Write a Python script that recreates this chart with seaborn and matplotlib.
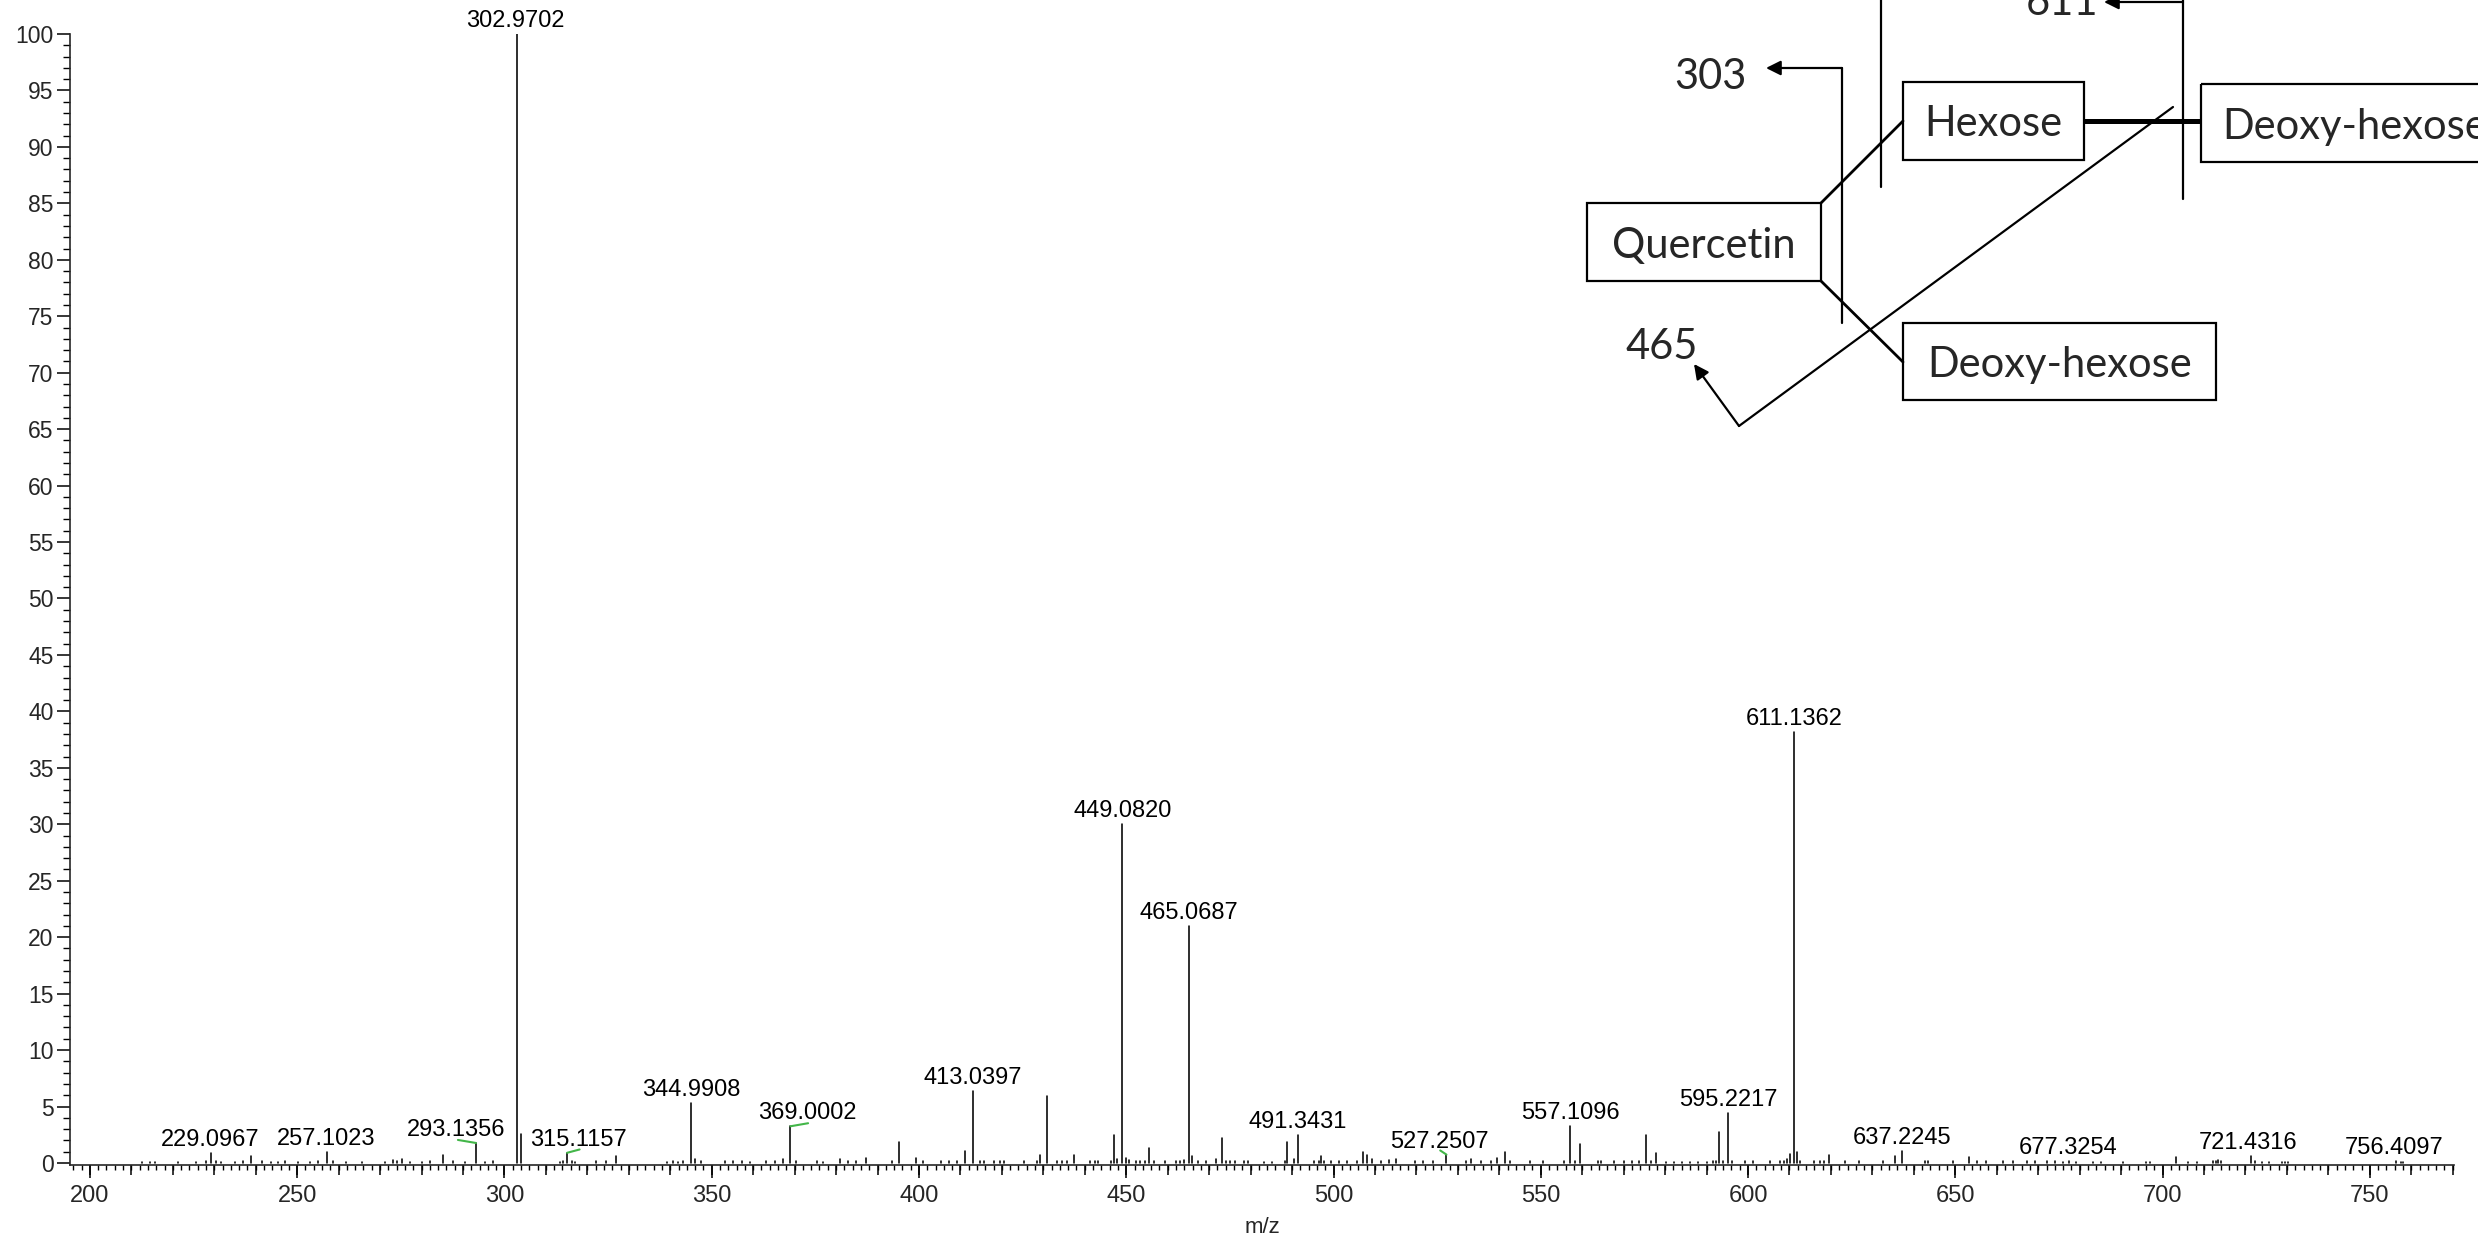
import numpy as np
import pandas as pd
import matplotlib
matplotlib.use("Agg")
import matplotlib.pyplot as plt
import seaborn as sns
from matplotlib.patches import Rectangle

# ---------------- data ----------------
mz = [212.5, 214.5, 215.7, 221.3, 225.7, 228.1, 229.0967, 230.5, 231.7, 234.9, 236.9, 238.9,
      241.4, 243.8, 245.4, 247.0, 250.3, 253.1, 255.1, 257.1023, 258.7, 261.9, 265.6, 271.2,
      273.2, 274.0, 275.2, 277.2, 280.0, 282.0, 285.1, 287.6, 290.5, 293.1356, 295.3, 297.3,
      302.9702, 304.0, 313.4, 314.2, 315.1157, 316.2, 317.0, 322.2, 324.6, 327.0, 339.1, 340.7,
      341.9, 343.1, 344.9908, 345.9, 347.3, 353.2, 355.2, 357.2, 359.2, 363.2, 365.2, 367.2,
      369.0002, 370.4, 375.3, 376.9, 380.9, 382.9, 384.9, 387.2, 393.4, 395.2, 399.3, 401.0,
      405.4, 407.3, 409.1, 411.2, 413.0397, 414.7, 415.7, 418.1, 419.5, 420.5, 425.3, 428.5,
      429.3, 431.0, 433.4, 434.4, 435.6, 437.3, 441.3, 442.5, 443.3, 446.3, 447.1, 447.8,
      449.0820, 449.9, 450.6, 452.3, 453.4, 454.6, 455.5, 456.6, 459.4, 462.1, 463.0, 464.0,
      465.0687, 465.9, 467.2, 469.2, 471.7, 473.1, 474.0, 475.1, 476.3, 478.3, 479.3, 483.2,
      485.2, 488.3, 488.9, 490.4, 491.3431, 495.3, 496.5, 496.9, 497.7, 499.5, 501.3, 503.3,
      505.6, 507.0, 508.2, 509.3, 511.4, 513.4, 515.0, 519.7, 521.7, 524.0, 527.2507, 531.9,
      533.2, 535.6, 538.0, 539.5, 541.4, 542.6, 547.4, 550.5, 555.6, 557.1096, 558.2, 559.5,
      563.7, 564.5, 567.7, 570.0, 571.9, 573.8, 575.5, 576.6, 577.8, 580.2, 582.2, 584.0,
      586.0, 588.0, 590.0, 591.5, 592.3, 593.1, 594.0, 595.2217, 596.2, 599.2, 601.2, 605.2,
      607.8, 608.6, 609.3, 610.1, 611.1362, 611.7, 612.5, 615.9, 617.3, 618.3, 619.5, 623.4,
      626.8, 632.6, 635.4, 637.2245, 642.7, 643.5, 649.5, 653.2, 655.2, 657.3, 661.6, 663.8,
      667.2, 669.2, 672.1, 674.1, 676.0, 677.3254, 679.2, 683.2, 685.2, 690.4, 696.1, 696.9,
      703.2, 706.2, 708.2, 712.2, 712.8, 713.4, 714.0, 721.4316, 722.3, 723.9, 725.7, 728.7,
      729.5, 730.3, 756.4097, 757.5, 758.1]
intensity = [0.1, 0.1, 0.1, 0.1, 0.1, 0.15, 0.9, 0.15, 0.1, 0.1, 0.15, 0.6,
             0.15, 0.12, 0.1, 0.15, 0.12, 0.1, 0.15, 1.0, 0.2, 0.12, 0.1, 0.1,
             0.3, 0.15, 0.35, 0.1, 0.1, 0.2, 0.75, 0.15, 0.1, 1.77, 0.1, 0.15,
             100.0, 2.6, 0.1, 0.2, 0.9, 0.15, 0.1, 0.15, 0.15, 0.6, 0.1, 0.15,
             0.1, 0.15, 5.3, 0.35, 0.15, 0.15, 0.15, 0.15, 0.1, 0.15, 0.2, 0.35,
             3.25, 0.15, 0.15, 0.1, 0.35, 0.15, 0.15, 0.45, 0.15, 1.83, 0.45, 0.15,
             0.15, 0.15, 0.15, 1.03, 6.4, 0.15, 0.15, 0.15, 0.2, 0.15, 0.15, 0.15,
             0.74, 5.9, 0.15, 0.15, 0.15, 0.74, 0.15, 0.15, 0.15, 0.15, 2.5, 0.35,
             30.0, 0.45, 0.25, 0.15, 0.15, 0.15, 1.35, 0.15, 0.2, 0.2, 0.2, 0.25,
             21.0, 0.65, 0.15, 0.2, 0.35, 2.2, 0.2, 0.15, 0.15, 0.15, 0.15, 0.1,
             0.1, 0.15, 1.9, 0.35, 2.45, 0.15, 0.2, 0.6, 0.15, 0.2, 0.15, 0.15,
             0.15, 1.0, 0.74, 0.35, 0.15, 0.3, 0.35, 0.15, 0.15, 0.2, 0.74, 0.15,
             0.35, 0.15, 0.15, 0.45, 1.0, 0.15, 0.2, 0.15, 0.15, 3.3, 0.15, 1.7,
             0.15, 0.15, 0.15, 0.15, 0.15, 0.15, 2.5, 0.15, 0.9, 0.1, 0.1, 0.1,
             0.1, 0.1, 0.1, 0.2, 0.15, 2.75, 0.15, 4.4, 0.15, 0.2, 0.15, 0.15,
             0.15, 0.2, 0.35, 0.8, 38.2, 1.0, 0.2, 0.15, 0.15, 0.15, 0.74, 0.15,
             0.15, 0.2, 0.65, 1.03, 0.15, 0.15, 0.15, 0.5, 0.15, 0.15, 0.15, 0.15,
             0.2, 0.15, 0.15, 0.15, 0.1, 0.15, 0.1, 0.1, 0.1, 0.1, 0.1, 0.1,
             0.5, 0.1, 0.1, 0.2, 0.2, 0.3, 0.15, 0.6, 0.15, 0.1, 0.1, 0.1,
             0.1, 0.1, 0.15, 0.1, 0.1]

labelled_mz = [229.0967, 257.1023, 293.1356, 302.9702, 315.1157, 344.9908, 369.0002,
               413.0397, 449.0820, 465.0687, 491.3431, 527.2507, 557.1096, 595.2217,
               611.1362, 637.2245, 677.3254, 721.4316, 756.4097]

x_ticks = list(range(200, 751, 50))
y_ticks = list(range(0, 101, 5))
x_label = "m/z"

# label shifts (points) for labels that are placed beside their peak
label_dx = {293.1356: -14, 315.1157: 8, 369.0002: 12.5, 527.2507: -5,
            721.4316: -2.5, 756.4097: -2, 302.9702: -1}
# green leader lines (points from the peak top)
leaders = {293.1356: (-13, 2.2), 315.1157: (9, 2.4), 369.0002: (12.7, 2.2),
           527.2507: (-4.5, 3)}

# ---------------- style ----------------
sns.set_theme(style="ticks")
plt.rcParams['font.family'] = ['Liberation Sans', 'DejaVu Sans']
plt.rcParams['axes.linewidth'] = 1.2

W, H = 2478, 1238
fig = plt.figure(figsize=(W / 100, H / 100), dpi=100)
ax = fig.add_axes([70 / W, (H - 1165) / H, (2454 - 70) / W, (1165 - 34) / H])

rows = []
for i, (m, h) in enumerate(zip(mz, intensity)):
    rows.append({"mz": m, "intensity": 0.0, "peak": i})
    rows.append({"mz": m, "intensity": h, "peak": i})
df = pd.DataFrame(rows)
sns.lineplot(data=df, x="mz", y="intensity", units="peak", estimator=None,
             sort=False, color="black", linewidth=1.15, ax=ax, legend=False)

ax.set_xlim(195.2, 770.3)
ax.set_ylim(-0.18, 100)
sns.despine(ax=ax)
ax.spines['left'].set_linewidth(1.2)
ax.spines['bottom'].set_linewidth(1.2)

ax.set_xticks(x_ticks)
ax.set_xticks(np.arange(196, 771, 2), minor=True)
ax.set_yticks(y_ticks)
ax.set_yticks(np.arange(0, 101, 1), minor=True)
ax.tick_params(axis='x', which='major', length=9.4, width=1.1, labelsize=17, pad=5, color='black')
ax.tick_params(axis='x', which='minor', length=3.6, width=1.0, color='black')
ax.tick_params(axis='y', which='major', length=9.4, width=1.1, labelsize=16.5, pad=2.5, color='black')
ax.tick_params(axis='y', which='minor', length=5.4, width=1.0, color='black')
ax.set_ylabel("")
ax.set_xlabel(x_label, fontsize=16, labelpad=7)

sec = ax.secondary_xaxis('bottom')
sec.set_xticks(list(range(200, 771, 10)))
sec.tick_params(axis='x', length=7.2, width=1.1, labelbottom=False, color='black')
sec.spines['bottom'].set_visible(False)

for m in labelled_mz:
    h = intensity[mz.index(m)]
    dx = label_dx.get(m, 0)
    ax.annotate(f"{m:.4f}", xy=(m, h), xytext=(dx, 9.3), textcoords='offset points',
                ha='center', va='center', fontsize=17, color='black', annotation_clip=False)
    if m in leaders:
        lx, ly = leaders[m]
        ax.annotate('', xy=(m, h), xytext=(lx, ly), textcoords='offset points',
                    arrowprops=dict(arrowstyle='-', color='#43b649', lw=1.5,
                                    shrinkA=0, shrinkB=0), annotation_clip=False)

# ---------------- fragmentation diagram (pixel coordinates) ----------------
d = fig.add_axes([0, 0, 1, 1])
d.set_xlim(0, W)
d.set_ylim(H, 0)
d.axis('off')
d.patch.set_alpha(0)
dfont = ['Lato', 'DejaVu Sans']
fs = 30
lw_box = 1.6
lw_thin = 1.6
lw_diag = 2.0

boxes = [((1587, 203, 1821, 281), "Quercetin", 'center'),
         ((1903, 82, 2084, 160), "Hexose", 'center'),
         ((2201, 84, 2520, 162), "Deoxy-hexose", 'left'),
         ((1903, 323, 2216, 400), "Deoxy-hexose", 'center')]
for (x0, y0, x1, y1), txt, al in boxes:
    d.add_patch(Rectangle((x0, y0), x1 - x0, y1 - y0, fill=False, ec='black', lw=lw_box,
                          clip_on=False))
    if al == 'center':
        d.text((x0 + x1) / 2, (y0 + y1) / 2, txt, ha='center', va='center_baseline',
               fontsize=fs, family=dfont)
    else:
        d.text(x0 + 21, (y0 + y1) / 2, txt, ha='left', va='center_baseline',
               fontsize=fs, family=dfont)

# connectors
d.plot([2084, 2201], [121, 121], color='black', lw=3.6, solid_capstyle='butt')
d.plot([1821, 1903], [203, 121], color='black', lw=lw_diag)
d.plot([1821, 1903], [281, 362], color='black', lw=lw_diag)

# cleavage lines and arrows
d.plot([1881, 1881], [0, 187], color='black', lw=lw_thin)
d.plot([2183, 2183], [0, 199], color='black', lw=lw_thin)
d.annotate('', xy=(2104, 2), xytext=(2183, 2),
           arrowprops=dict(arrowstyle='-|>', color='black', lw=lw_thin, mutation_scale=22,
                           shrinkA=0, shrinkB=0))
d.plot([1842, 1842], [323, 68], color='black', lw=lw_thin)
d.annotate('', xy=(1766, 68), xytext=(1842, 68),
           arrowprops=dict(arrowstyle='-|>', color='black', lw=lw_thin, mutation_scale=22,
                           shrinkA=0, shrinkB=0))
d.plot([2173, 1739], [107, 426], color='black', lw=lw_thin)
d.annotate('', xy=(1694, 364), xytext=(1739, 426),
           arrowprops=dict(arrowstyle='-|>', color='black', lw=lw_thin, mutation_scale=22,
                           shrinkA=0, shrinkB=0))

d.text(2062, 15, "611", ha='center', va='baseline', fontsize=fs, family=dfont)
d.text(1710, 89, "303", ha='center', va='baseline', fontsize=fs, family=dfont)
d.text(1662, 359, "465", ha='center', va='baseline', fontsize=fs, family=dfont)

fig.savefig("out.png", dpi=100)
